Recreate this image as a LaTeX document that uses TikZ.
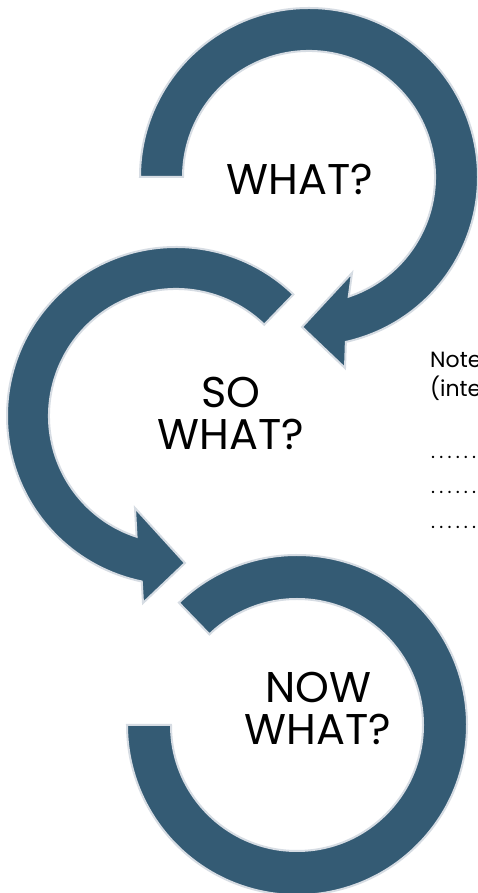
\documentclass[tikz,border=0pt]{standalone}
\usepackage{fontspec}
\newfontfamily\pop{Poppins}
\usetikzlibrary{calc}
\definecolor{ringblue}{RGB}{52,91,116}
\definecolor{ringedge}{RGB}{214,220,227}
\newcommand{\dotrow}{.\hskip4.2pt.\hskip4.2pt.\hskip4.2pt.\hskip4.2pt.\hskip4.2pt.}
\begin{document}
\begin{tikzpicture}[x=1pt,y=1pt,
  ring/.style={fill=ringblue, draw=ringedge, line width=2pt, line join=miter},
  big/.style={font=\pop\fontsize{43}{42}\selectfont, align=center, text=black, inner sep=0pt},
  note/.style={font=\pop\fontsize{22}{24}\selectfont, anchor=base west, inner sep=0pt, text=black},
  dots/.style={font=\pop\fontsize{19}{20}\selectfont, anchor=base west, inner sep=0pt, text=black}]
\useasboundingbox (0,0) rectangle (478,893);
\fill[white] (0,0) rectangle (478,893);
% top ring (WHAT?)
\path[ring] (140,716) arc[start angle=180, end angle=-77.4, radius=169]
  -- (345,525) -- (302,566) -- (352,620)
  -- ($(309,716)+(-71.6:126)$) arc[start angle=-71.6, end angle=180, radius=126] -- cycle;
% middle ring (SO WHAT?)
\path[ring] ($(176,477)+(46:169)$) arc[start angle=46, end angle=258.3, radius=169]
  -- (143,290) -- (185,330) -- (135,385)
  -- ($(176,477)+(251.9:127)$) arc[start angle=251.9, end angle=46, radius=127] -- cycle;
% bottom ring (NOW WHAT?)
\path[ring] ($(297,168)+(134:170)$) arc[start angle=134, end angle=-180, radius=170]
  -- (171,168) arc[start angle=-180, end angle=134, radius=126] -- cycle;
% labels
\node[big] (what) at (300,714) {WHAT?};
\node[big] (sowhat) at (231,480) {SO\\WHAT?};
\node[big] (nowwhat) at (318,185) {NOW\\WHAT?};
\node[note] (n1) at (430,525) {Note};
\node[note] (n2) at (430,496) {(inte};
\node[dots] (d1) at (431,434) {\dotrow};
\node[dots] (d2) at (431,399) {\dotrow};
\node[dots] (d3) at (431,364) {\dotrow};
\end{tikzpicture}
\end{document}
